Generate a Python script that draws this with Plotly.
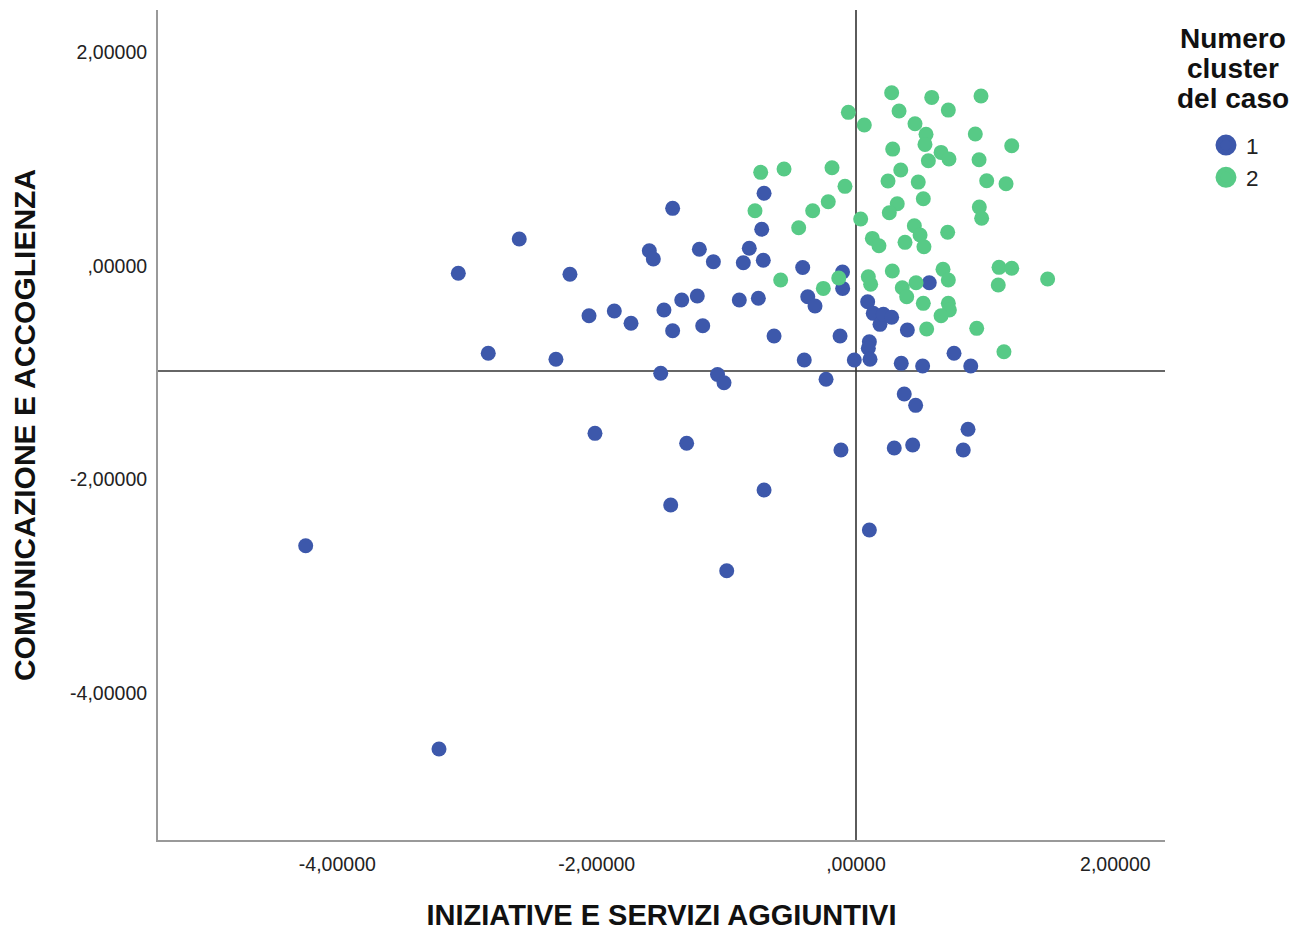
import plotly.graph_objects as go

# Cluster 1 (blue)
c1_x = [-4.244, -3.216, -3.067, -2.836, -2.597, -2.314, -2.206, -2.059, -2.013, -1.864,
        -1.735, -1.594, -1.563, -1.506, -1.481, -1.414, -1.414, -1.429, -1.344, -1.306,
        -1.224, -1.208, -1.182, -1.100, -1.068, -1.018, -0.997, -0.900, -0.869, -0.823,
        -0.753, -0.715, -0.727, -0.709, -0.709, -0.632, -0.411, -0.399, -0.372, -0.316,
        -0.231, -0.123, -0.116, -0.104, -0.103, -0.013, 0.090, 0.103, 0.095, 0.108,
        0.103, 0.133, 0.185, 0.211, 0.275, 0.295, 0.349, 0.372, 0.396, 0.437,
        0.460, 0.514, 0.565, 0.756, 0.827, 0.864, 0.885]
c1_y = [-2.621, -4.524, -0.071, -0.820, 0.250, -0.876, -0.080, -0.468, -1.569, -0.424,
        -0.539, 0.140, 0.063, -1.007, -0.415, 0.537, -0.608, -2.240, -0.321, -1.662,
        -0.284, 0.154, -0.562, 0.037, -1.018, -1.095, -2.855, -0.321, 0.028, 0.163,
        -0.305, 0.051, 0.341, 0.678, -2.100, -0.658, -0.017, -0.883, -0.290, -0.377,
        -1.063, -0.658, -1.725, -0.059, -0.212, -0.883, -0.337, -0.711, -0.773, -0.876,
        -2.474, -0.446, -0.549, -0.455, -0.483, -1.706, -0.914, -1.201, -0.602, -1.678,
        -1.307, -0.939, -0.159, -0.820, -1.725, -1.531, -0.939]

# Cluster 2 (green)
c2_x = [0.275, 0.584, 0.964, -0.059, 0.332, 0.712, 0.064, 0.455, 0.540, 0.532,
        0.920, 1.201, 0.283, 0.656, 0.717, 0.558, 0.949, -0.735, -0.555, -0.185,
        0.345, 0.247, 0.480, 1.008, 1.157, -0.085, 0.519, -0.779, -0.334, -0.214,
        0.318, 0.257, 0.951, 0.969, -0.442, 0.036, 0.450, 0.494, 0.524, 0.126,
        0.177, 0.378, 0.707, 0.280, 0.671, 1.103, 1.201, 1.478, -0.581, 0.095,
        -0.133, -0.252, 0.113, 0.357, 0.391, 0.463, 0.712, 0.519, 0.712, 0.720,
        0.656, 0.545, 0.931, 1.097, 1.141]
c2_y = [1.619, 1.576, 1.589, 1.436, 1.448, 1.457, 1.317, 1.329, 1.230, 1.136,
        1.233, 1.123, 1.092, 1.061, 0.999, 0.983, 0.992, 0.874, 0.905, 0.917,
        0.896, 0.793, 0.783, 0.796, 0.768, 0.743, 0.627, 0.515, 0.515, 0.599,
        0.580, 0.496, 0.549, 0.444, 0.356, 0.437, 0.374, 0.287, 0.178, 0.256,
        0.187, 0.219, 0.313, -0.050, -0.034, -0.015, -0.023, -0.124, -0.134, -0.103,
        -0.115, -0.212, -0.174, -0.206, -0.290, -0.159, -0.134, -0.352, -0.352, -0.415,
        -0.468, -0.593, -0.586, -0.181, -0.805]

cluster_names = ["1", "2"]
legend_title_lines = ["Numero", "cluster", "del caso"]
tick_vals = [-4, -2, 0, 2]
x_tick_text = ["-4,00000", "-2,00000", ",00000", "2,00000"]
y_tick_text = ["-4,00000", "-2,00000", ",00000", "2,00000"]
ref_x = 0.0
ref_y = -0.985

BLUE = "#3d58ab"
GREEN = "#57ca86"
FONT = "Liberation Sans, Arial, sans-serif"

fig = go.Figure()
fig.add_trace(go.Scatter(x=c1_x, y=c1_y, mode="markers", name=cluster_names[0],
                         showlegend=False,
                         marker=dict(color=BLUE, size=15, line=dict(width=0))))
fig.add_trace(go.Scatter(x=c2_x, y=c2_y, mode="markers", name=cluster_names[1],
                         showlegend=False,
                         marker=dict(color=GREEN, size=15, line=dict(width=0))))
# legend entries (larger symbols, as in the original legend)
for nm, col in zip(cluster_names, [BLUE, GREEN]):
    fig.add_trace(go.Scatter(x=[None], y=[None], mode="markers", name=nm,
                             marker=dict(color=col, size=16, line=dict(color=col, width=5))))

fig.add_shape(type="line", xref="x", yref="paper", x0=ref_x, x1=ref_x, y0=0, y1=1,
              line=dict(color="#333333", width=1.6), layer="below")
fig.add_shape(type="line", xref="paper", yref="y", x0=0, x1=1, y0=ref_y, y1=ref_y,
              line=dict(color="#333333", width=1.6), layer="below")

# legend title (three lines, tight spacing)
for line, yp in zip(legend_title_lines, [0.966, 0.929, 0.893]):
    fig.add_annotation(text="<b>%s</b>" % line, xref="paper", yref="paper",
                       x=1.0675, y=yp, xanchor="center", yanchor="middle",
                       showarrow=False, font=dict(size=28, family=FONT, color="#111111"))

fig.update_layout(
    width=1291, height=923,
    margin=dict(l=150, r=134, t=2, b=91),
    paper_bgcolor="white", plot_bgcolor="white",
    font=dict(family=FONT, color="#222222"),
    showlegend=True,
    legend=dict(
        font=dict(size=22.5, family=FONT, color="#222222"),
        x=1.0407, xanchor="left", y=0.8627, yanchor="top",
        itemsizing="trace", tracegroupgap=0, itemwidth=30,
        bgcolor="rgba(0,0,0,0)",
    ),
    xaxis=dict(range=[-5.383, 2.383], tickvals=tick_vals, ticktext=x_tick_text,
               showgrid=False, zeroline=False, showline=True, linecolor="#999999",
               linewidth=2, ticks="", ticklabelstandoff=6,
               tickfont=dict(size=19.5, color="#222222"),
               title=dict(text="<b>INIZIATIVE E SERVIZI AGGIUNTIVI</b>",
                          font=dict(size=29, color="#111111"), standoff=32)),
    yaxis=dict(range=[-5.376, 2.394], tickvals=tick_vals, ticktext=y_tick_text,
               showgrid=False, zeroline=False, showline=True, linecolor="#999999",
               linewidth=2, ticks="", ticklabelstandoff=5,
               tickfont=dict(size=19.5, color="#222222"),
               title=dict(text="<b>COMUNICAZIONE E ACCOGLIENZA</b>",
                          font=dict(size=30, color="#111111"), standoff=36)),
)

fig.write_html("out.html")
